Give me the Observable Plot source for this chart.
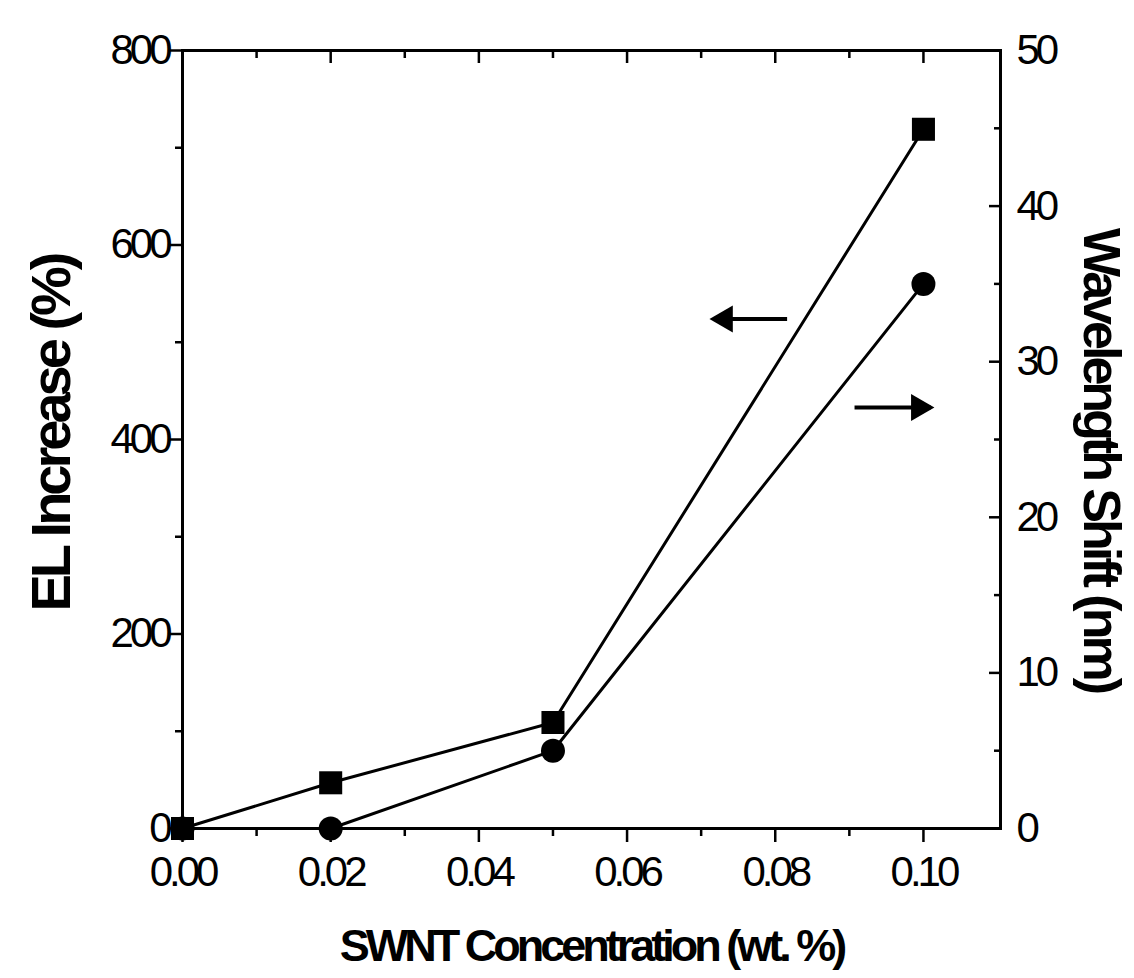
<!DOCTYPE html>
<html>
<head>
<meta charset="utf-8">
<script src="https://cdn.jsdelivr.net/npm/d3@7"></script>
<script src="https://cdn.jsdelivr.net/npm/@observablehq/plot@0.6"></script>
<style>
  html, body { margin: 0; padding: 0; background: #fff; }
  #chart svg { display: block; }
</style>
</head>
<body>
<div id="chart"></div>
<script>
// ---- data ----
const concentration = [0.00, 0.02, 0.05, 0.10];          // SWNT wt. %
const elIncrease    = [0, 47, 109, 719];                   // EL Increase (%) – left axis
const waveShift     = [0, 0, 5, 35];                       // Wavelength Shift (nm) – right axis

const xTicks      = [0.00, 0.02, 0.04, 0.06, 0.08, 0.10];
const xMinorTicks = [0.01, 0.03, 0.05, 0.07, 0.09];
const yLeftTicks  = [0, 200, 400, 600, 800];
const yLeftMinor  = [100, 300, 500, 700];
const yRightTicks = [0, 10, 20, 30, 40, 50];
const yRightMinor = [5, 15, 25, 35, 45];

// annotation arrows (data coordinates: x in wt.%, y in left-axis units)
const arrowLeft  = {x1: 0.0816, x2: 0.0716, y: 524};   // points to left axis
const arrowRight = {x1: 0.0907, x2: 0.1010, y: 433};   // points to right axis

const xLabel  = "SWNT Concentration (wt. %)";
const yLabelL = "EL Increase (%)";
const yLabelR = "Wavelength Shift (nm)";

// ---- derived ----
const k = 800 / 50; // right axis -> left axis units
const squares = concentration.map((c, i) => ({x: c, y: elIncrease[i]}));
const circles = concentration.map((c, i) => ({x: c, y: waveShift[i] * k}));

const sw = 3;

const chart = Plot.plot({
  width: 1134,
  height: 978,
  marginLeft: 182,
  marginRight: 134,
  marginTop: 50,
  marginBottom: 150,
  style: {fontFamily: "'Liberation Sans', Arial, sans-serif", fontSize: "42px", color: "#000", background: "#fff"},
  x: {domain: [0, 0.1104]},
  y: {domain: [0, 800]},
  marks: [
    // bottom axis
    Plot.axisX(xTicks, {anchor: "bottom", tickSize: 14, tickPadding: 14, strokeWidth: 2.5, tickFormat: d3.format(".2f"), label: null}),
    Plot.axisX(xMinorTicks, {anchor: "bottom", tickSize: 8, strokeWidth: 2.5, text: null, label: null}),
    // top axis (inward ticks)
    Plot.axisX(xTicks, {anchor: "top", tickSize: 12, dy: 12, strokeWidth: 2.5, text: null, label: null}),
    Plot.axisX(xMinorTicks, {anchor: "top", tickSize: 7, dy: 7, strokeWidth: 2.5, text: null, label: null}),
    // left axis
    Plot.axisY(yLeftTicks, {anchor: "left", tickSize: 12, tickPadding: 2, strokeWidth: 2.5, label: null}),
    Plot.axisY(yLeftMinor, {anchor: "left", tickSize: 7, strokeWidth: 2.5, text: null, label: null}),
    // right axis (inward ticks)
    Plot.axisY(yRightTicks.map(d => d * k), {anchor: "right", tickSize: 12, dx: -12, strokeWidth: 2.5, text: null, label: null}),
    Plot.axisY(yRightMinor.map(d => d * k), {anchor: "right", tickSize: 7, dx: -7, strokeWidth: 2.5, text: null, label: null}),
    Plot.axisY(yRightTicks.map(d => d * k), {anchor: "right", tickSize: 0, tickPadding: 16, tickFormat: d => String(Math.round(d / k)), label: null}),
    Plot.frame({stroke: "#000", strokeWidth: sw}),
    // series
    Plot.line(squares, {x: "x", y: "y", stroke: "#000", strokeWidth: sw}),
    Plot.line(circles, {x: "x", y: "y", stroke: "#000", strokeWidth: sw}),
    Plot.dot(squares, {x: "x", y: "y", symbol: "square", r: 13, fill: "#000"}),
    Plot.dot(circles, {x: "x", y: "y", symbol: "circle", r: 12, fill: "#000"}),
    // arrows
    Plot.link([arrowLeft, arrowRight], {x1: "x1", x2: "x2", y1: "y", y2: "y", stroke: "#000", strokeWidth: 4}),
    Plot.dot([arrowLeft], {x: "x2", y: "y", symbol: "triangle", r: 10, rotate: -90, fill: "#000", dx: 12}),
    Plot.dot([arrowRight], {x: "x2", y: "y", symbol: "triangle", r: 10, rotate: 90, fill: "#000", dx: -12}),
    // axis titles
    Plot.text([yLabelL], {text: d => d, frameAnchor: "left", textAnchor: "middle", lineAnchor: "middle", dx: -130, dy: -6, rotate: -90, fontSize: 56, fontWeight: "bold", fill: "#000", ariaLabel: "ytitleL"}),
    Plot.text([yLabelR], {text: d => d, frameAnchor: "right", textAnchor: "middle", lineAnchor: "middle", dx: 100, dy: 20, rotate: 90, fontSize: 52, fontWeight: "bold", fill: "#000", ariaLabel: "ytitleR"}),
    Plot.text([xLabel], {text: d => d, frameAnchor: "bottom", textAnchor: "middle", lineAnchor: "middle", dy: 118, fontSize: 45, fontWeight: "bold", fill: "#000", ariaLabel: "xtitle"})
  ]
});

const svg = d3.select(chart);
svg.selectAll("text").style("letter-spacing", "-4px");
const fit = (label, len) => svg.selectAll(`g[aria-label='${label}'] text`)
  .style("letter-spacing", "0px")
  .attr("textLength", len)
  .attr("lengthAdjust", "spacingAndGlyphs");
fit("ytitleL", 420);
fit("ytitleR", 560);
fit("xtitle", 460);
document.getElementById("chart").appendChild(chart);
</script>
</body>
</html>
